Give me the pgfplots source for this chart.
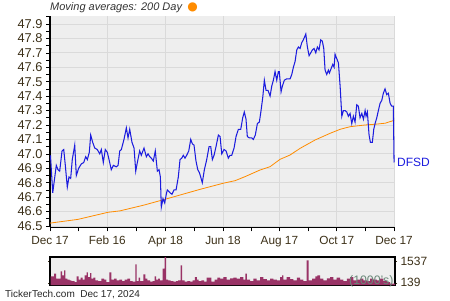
\documentclass[border=0pt]{standalone}
\usepackage{pgfplots}
\pgfplotsset{compat=1.18}
\usepackage{fontspec}
\setmainfont{Liberation Sans}
\definecolor{bgc}{RGB}{238,238,238}
\definecolor{gridc}{RGB}{218,218,218}
\definecolor{pricec}{RGB}{28,28,222}
\definecolor{mac}{RGB}{255,140,0}
\definecolor{volc}{RGB}{153,51,102}
\definecolor{labc}{RGB}{60,48,24}
\definecolor{kc}{RGB}{105,135,120}
\begin{document}
\begin{tikzpicture}[x=1bp,y=1bp]
\useasboundingbox (0,0) rectangle (450,300);
\begin{axis}[
  at={(50bp,72.7bp)}, anchor=south west,
  scale only axis, width=345bp, height=211.3bp,
  xmin=0, xmax=367, ymin=46.491, ymax=47.955,
  axis background/.style={fill=bgc},
  axis x line=bottom, axis y line=left,
  x axis line style={-, line width=1.1pt, black},
  y axis line style={-, line width=1.1pt, black},
  tick align=outside,
  major tick length=4bp, minor tick length=4bp,
  tick style={black, line width=0.6pt},
  xtick={0,61,123,184,244,305,366},
  xticklabels={Dec 17,Feb 16,Apr 18,Jun 18,Aug 17,Oct 17,Dec 17},
  minor xtick={30.5,92,153.5,214,274.5,335.5},
  ytick={46.5,46.6,...,47.95},
  minor ytick={46.55,46.65,...,47.9},
  grid=major, major grid style={gridc, line width=0.8pt},
  /pgf/number format/assume math mode=true,
  yticklabel style={/pgf/number format/fixed, /pgf/number format/precision=1, /pgf/number format/fixed zerofill, font=\fontsize{12.8bp}{14bp}\selectfont, text=labc},
  xticklabel style={font=\fontsize{11.8bp}{13bp}\selectfont, text=labc, yshift=-1.5bp},
  clip=true,
]
\addplot[mac, line width=0.8pt] coordinates {
(0,46.52) (29.8,46.546) (61.7,46.595) (74.5,46.605) (100,46.645) (123.4,46.687) (159.6,46.754) (184.1,46.796) (196.8,46.814) (207.5,46.842) (223.4,46.888) (234.1,46.911) (244.7,46.962) (255.4,46.992) (266,47.038) (282,47.096) (297.9,47.142) (308.6,47.17) (319.2,47.188) (335.2,47.20) (345.8,47.205) (356.4,47.212) (366,47.232)
};
\addplot[pricec, line width=1.05pt] coordinates {
(0.5,46.99) (2.9,46.73) (6.7,46.92) (8.5,46.89) (10.3,46.88) (12.8,47.02) (14.6,47.03) (16.3,46.92) (18.4,46.77) (20.2,46.84) (22.0,46.83) (23.7,46.96) (26.3,47.06) (28.0,46.85) (30.5,46.90) (33.3,46.93) (35.9,46.94) (38.0,46.98) (39.7,46.96) (41.8,47.01) (43.3,47.13) (45.4,47.08) (47.6,47.04) (50.3,47.03) (52.9,47.00) (54.6,47.03) (56.7,46.94) (58.8,47.03) (61.0,47.01) (62.8,46.96) (65.2,46.89) (67.4,46.92) (70.5,46.91) (72.4,46.92) (74.2,47.02) (75.9,47.03) (78.7,47.10) (81.2,47.18) (83.0,47.11) (84.8,47.17) (87.2,47.08) (89.4,47.04) (91.2,46.88) (92.9,46.94) (95.4,47.02) (97.1,46.99) (100.0,47.04) (102.5,46.98) (104.3,47.00) (106.1,46.98) (107.8,46.97) (109.9,46.95) (112.0,47.02) (114.2,46.88) (116.0,46.89) (117.4,46.84) (118.4,46.63) (120.2,46.69) (122.0,46.66) (123.7,46.72) (124.8,46.75) (127.7,46.73) (129.8,46.72) (131.9,46.75) (134.1,46.75) (136.5,46.84) (138.3,46.96) (140.1,46.97) (141.8,46.99) (143.6,46.97) (145.4,46.99) (147.6,47.02) (149.7,47.10) (151.4,47.07) (153.2,47.06) (155.3,46.95) (157.2,46.89) (158.9,46.87) (160.3,46.84) (162.0,46.80) (164.2,46.89) (166.7,46.96) (169.2,47.05) (171.0,47.05) (172.7,46.96) (174.5,46.99) (176.6,47.05) (179.1,47.13) (180.9,47.12) (182.7,47.00) (185.1,47.03) (187.3,47.02) (189.7,46.97) (191.5,46.99) (193.3,46.99) (195.8,47.04) (197.9,47.12) (200.4,47.17) (202.9,47.17) (205.0,47.25) (206.7,47.29) (208.5,47.24) (209.9,47.12) (212.1,47.11) (214.6,47.11) (216.3,47.10) (218.4,47.13) (220.6,47.21) (222.7,47.22) (224.5,47.30) (226.3,47.39) (228.0,47.51) (229.8,47.44) (231.9,47.44) (234.1,47.40) (235.9,47.47) (237.6,47.51) (239.4,47.57) (241.2,47.51) (242.9,47.57) (243.9,47.57) (245.8,47.43) (247.2,47.47) (249.3,47.51) (251.8,47.52) (255.4,47.52) (257.2,47.55) (258.9,47.60) (260.7,47.64) (262.5,47.72) (264.2,47.74) (266.0,47.73) (267.8,47.77) (269.5,47.79) (272.1,47.83) (273.8,47.74) (275.6,47.68) (277.4,47.70) (279.1,47.72) (280.9,47.73) (282.7,47.70) (284.4,47.74) (286.2,47.72) (288.0,47.79) (289.7,47.78) (291.2,47.73) (292.6,47.58) (294.4,47.55) (296.1,47.58) (297.2,47.56) (299.0,47.59) (300.8,47.62) (302.2,47.60) (303.2,47.69) (305.0,47.66) (306.8,47.63) (308.6,47.47) (310.4,47.26) (312.1,47.30) (313.9,47.30) (315.7,47.29) (317.4,47.26) (319.2,47.28) (321.0,47.21) (322.7,47.26) (324.5,47.22) (326.3,47.34) (328.0,47.33) (329.8,47.25) (331.7,47.28) (333.4,47.24) (335.2,47.30) (336.2,47.26) (337.6,47.29) (339.4,47.13) (340.8,47.08) (342.9,47.08) (344.4,47.17) (345.8,47.21) (347.6,47.25) (349.3,47.30) (351.1,47.35) (352.9,47.37) (354.6,47.42) (356.4,47.45) (358.2,47.41) (359.9,47.42) (361.8,47.35) (363.5,47.33) (365.2,47.33) (366,46.94)
};
\end{axis}
\begin{axis}[
  at={(50bp,15bp)}, anchor=south west,
  scale only axis, width=345bp, height=28bp,
  xmin=0, xmax=367, ymin=0, ymax=1800,
  axis background/.style={fill=bgc},
  axis line style={line width=1.1pt, black},
  xtick=\empty,
  ytick={139,1537}, yticklabel pos=right,
  tick align=outside, major tick length=2bp,
  ytick style={labc, line width=0.6pt},
  /pgf/number format/assume math mode=true,
  yticklabel style={/pgf/number format/fixed, /pgf/number format/1000 sep={}, font=\fontsize{12bp}{13bp}\selectfont, text=labc},
]
\addplot[const plot, fill=volc, draw=none] coordinates {
(0.7,556) (4.3,728) (6.4,407) (8.5,407) (11.4,877) (12.8,621) (14.9,942) (16.3,407) (18.4,342) (20.9,300) (22.7,257) (26.2,193) (28.4,556) (30.5,342) (32.6,471) (34.8,342) (36.9,621) (39.0,813) (40.4,514) (42.6,770) (44.0,407) (46.1,471) (48.2,300) (51.1,257) (54.6,407) (57.5,342) (60.0,193) (63.1,813) (65.3,342) (68.1,407) (71.0,300) (73.8,342) (76.6,257) (79.5,342) (82.3,407) (85.1,257) (88.0,214) (90.8,1327) (92.2,257) (94.3,471) (95.8,257) (99.3,685) (101.4,407) (103.6,300) (106.4,214) (109.2,257) (111.4,556) (112.8,342) (114.9,407) (117.0,300) (119.9,1049) (122.0,1800) (123.4,342) (125.6,300) (128.4,257) (131.2,214) (134.1,257) (136.2,300) (139.0,1263) (140.5,300) (143.3,214) (146.1,257) (149.0,214) (151.8,300) (154.0,514) (156.1,342) (158.2,257) (161.0,300) (163.9,214) (166.7,471) (169.5,471) (171.7,214) (175.2,342) (178.1,471) (180.9,407) (184.4,514) (188.0,342) (191.5,428) (195.1,471) (198.6,407) (202.2,514) (205.7,342) (207.9,728) (209.3,342) (212.8,257) (216.4,407) (219.9,300) (223.5,514) (227.0,385) (230.6,300) (234.1,407) (237.7,342) (241.2,300) (244.7,514) (246.9,621) (248.3,342) (251.8,514) (255.4,385) (258.9,300) (262.5,471) (266.0,342) (269.6,257) (273.1,1584) (275.2,300) (278.8,407) (282.3,556) (284.5,621) (287.3,407) (290.9,300) (294.4,428) (297.9,514) (301.5,342) (305.0,471) (308.6,342) (312.1,257) (315.7,407) (319.2,514) (322.8,300) (326.3,342) (329.9,407) (333.4,300) (337.0,257) (340.5,407) (344.1,342) (347.6,300) (351.2,407) (354.7,257) (358.3,193) (361.8,86) (367,86)
} \closedcycle;
\end{axis}
\node[anchor=west, inner sep=0pt, text=kc, font=\fontsize{12.3bp}{13bp}\selectfont] at (349,18.7) {(1000's)};
\node[anchor=west, inner sep=0pt, text=black!80, font=\fontsize{11bp}{12bp}\itshape] at (50,292) {Moving averages: 200 Day};
\node[anchor=center, inner sep=0pt, text=mac, font=\fontspec{DejaVu Sans}\fontsize{12bp}{12bp}\selectfont] at (192.5,293) {●};
\node[anchor=west, inner sep=0pt, text=pricec, font=\fontsize{12bp}{13bp}\selectfont] at (397,138) {DFSD};
\node[anchor=west, inner sep=0pt, text=black!85, font=\fontsize{10bp}{11bp}\selectfont] at (5,5.3) {TickerTech.com\ \ Dec 17, 2024};
\end{tikzpicture}
\end{document}
